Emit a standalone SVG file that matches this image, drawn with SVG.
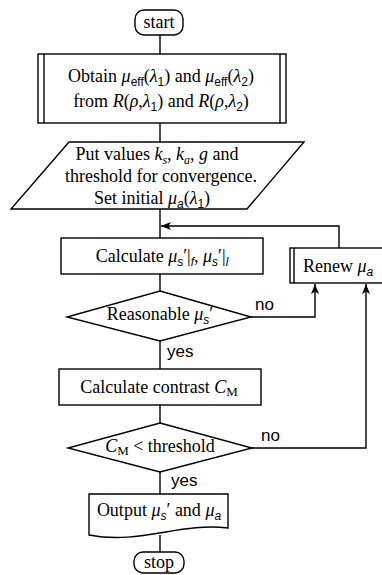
<svg xmlns="http://www.w3.org/2000/svg" width="382" height="575" viewBox="0 0 382 575">
<style>
.s{fill:#fff;stroke:#000;stroke-width:1.4}
.c{fill:none;stroke:#000;stroke-width:1.4}
.t{font-family:"Liberation Serif","Times New Roman",serif;font-size:18px;fill:#000;text-anchor:middle}
.i{font-style:italic}
.sb{font-family:"Liberation Sans",Arial,sans-serif;font-size:12px}
.l{font-family:"Liberation Sans",Arial,sans-serif;font-size:17px;fill:#000}
</style>
<defs>
<marker id="ah" viewBox="0 0 10 8" refX="10" refY="4" markerWidth="10" markerHeight="8" orient="auto" markerUnits="userSpaceOnUse">
<path d="M0,0 L10,4 L0,8 L2.5,4 Z" fill="#000"/>
</marker>
</defs>
<rect width="382" height="575" fill="#fff"/>
<g id="connectors">
<path class="c" d="M160,35V54"/>
<path class="c" d="M160,123V142"/>
<path class="c" d="M160,209V238"/>
<path class="c" d="M160,274V291"/>
<path class="c" d="M160,341V369"/>
<path class="c" d="M160,405V423"/>
<path class="c" d="M160,472V494"/>
<path class="c" d="M160,535V552"/>
<path class="c" d="M339,248V226H161" marker-end="url(#ah)"/>
<path class="c" d="M251,317H315V284" marker-end="url(#ah)"/>
<path class="c" d="M252,448H366V284" marker-end="url(#ah)"/>
<text class="l" x="255" y="310">no</text>
<text class="l" x="167" y="357">yes</text>
<text class="l" x="261" y="441">no</text>
<text class="l" x="171" y="486">yes</text>
</g>
<g id="start">
<rect class="s" x="135" y="10" width="48" height="25" rx="9"/>
<text class="t" x="159" y="28">start</text>
</g>
<g id="obtain">
<rect class="s" x="38" y="54" width="248" height="69"/>
<path class="c" d="M44,54V123M280,54V123"/>
<text class="t" x="161" y="82">Obtain <tspan class="i">μ</tspan><tspan class="sb" dy="4">eff</tspan><tspan dy="-4">(</tspan><tspan class="i">λ</tspan><tspan class="sb" dy="4">1</tspan><tspan dy="-4">) and </tspan><tspan class="i">μ</tspan><tspan class="sb" dy="4">eff</tspan><tspan dy="-4">(</tspan><tspan class="i">λ</tspan><tspan class="sb" dy="4">2</tspan><tspan dy="-4">)</tspan></text>
<text class="t" x="161" y="107">from <tspan class="i">R</tspan>(<tspan class="i">ρ</tspan>,<tspan class="i">λ</tspan><tspan class="sb" dy="4">1</tspan><tspan dy="-4">) and </tspan><tspan class="i">R</tspan>(<tspan class="i">ρ</tspan>,<tspan class="i">λ</tspan><tspan class="sb" dy="4">2</tspan><tspan dy="-4">)</tspan></text>
</g>
<g id="input">
<polygon class="s" points="69,142 304,142 247,209 11,209"/>
<text class="t" x="157" y="160">Put values <tspan class="i">k</tspan><tspan class="i" font-size="12" dy="4">s</tspan><tspan dy="-4">, </tspan><tspan class="i">k</tspan><tspan class="i" font-size="12" dy="4">a</tspan><tspan dy="-4">, </tspan><tspan class="i">g</tspan> and</text>
<text class="t" x="161" y="182">threshold for convergence.</text>
<text class="t" x="152" y="204">Set initial <tspan class="i">μ</tspan><tspan class="sb i" dy="4">a</tspan><tspan dy="-4">(</tspan><tspan class="i">λ</tspan><tspan class="sb" dy="4">1</tspan><tspan dy="-4">)</tspan></text>
</g>
<g id="calc">
<rect class="s" x="61" y="238" width="202" height="36"/>
<text class="t" x="162" y="262">Calculate <tspan class="i">μ</tspan><tspan class="sb i" dy="4">s</tspan><tspan dy="-4">′|</tspan><tspan class="sb i" dy="4">f</tspan><tspan dy="-4">,  </tspan><tspan class="i">μ</tspan><tspan class="sb i" dy="4">s</tspan><tspan dy="-4">′|</tspan><tspan class="sb i" dy="4">l</tspan></text>
</g>
<g id="renew">
<rect class="s" x="290" y="248" width="110" height="35"/>
<path class="c" d="M294,248V283"/>
<text class="t" x="303" y="272" text-anchor="start" style="text-anchor:start">Renew <tspan class="i">μ</tspan><tspan class="sb i" dy="4">a</tspan></text>
</g>
<g id="reasonable">
<polygon class="s" points="160,291 251,317 160,341 67,317"/>
<text class="t" x="160" y="320">Reasonable <tspan class="i">μ</tspan><tspan class="sb i" dy="4">s</tspan><tspan dy="-4">′</tspan></text>
</g>
<g id="contrast">
<rect class="s" x="59" y="369" width="202" height="36"/>
<text class="t" x="159" y="393">Calculate contrast <tspan class="i">C</tspan><tspan font-size="13" dy="3">M</tspan></text>
</g>
<g id="threshold">
<polygon class="s" points="160,423 252,448 160,472 68,448"/>
<text class="t" x="160" y="452"><tspan class="i">C</tspan><tspan font-size="13" dy="3">M</tspan><tspan dy="-3"> &lt; threshold</tspan></text>
</g>
<g id="output">
<path class="s" d="M89,494H228V528C180,522 140,545 89,535Z"/>
<text class="t" x="159" y="516">Output <tspan class="i">μ</tspan><tspan class="sb i" dy="4">s</tspan><tspan dy="-4">′ and </tspan><tspan class="i">μ</tspan><tspan class="sb i" dy="4">a</tspan></text>
</g>
<g id="stop">
<rect class="s" x="134" y="552" width="50" height="21" rx="9"/>
<text class="t" x="159" y="568">stop</text>
</g>
</svg>
